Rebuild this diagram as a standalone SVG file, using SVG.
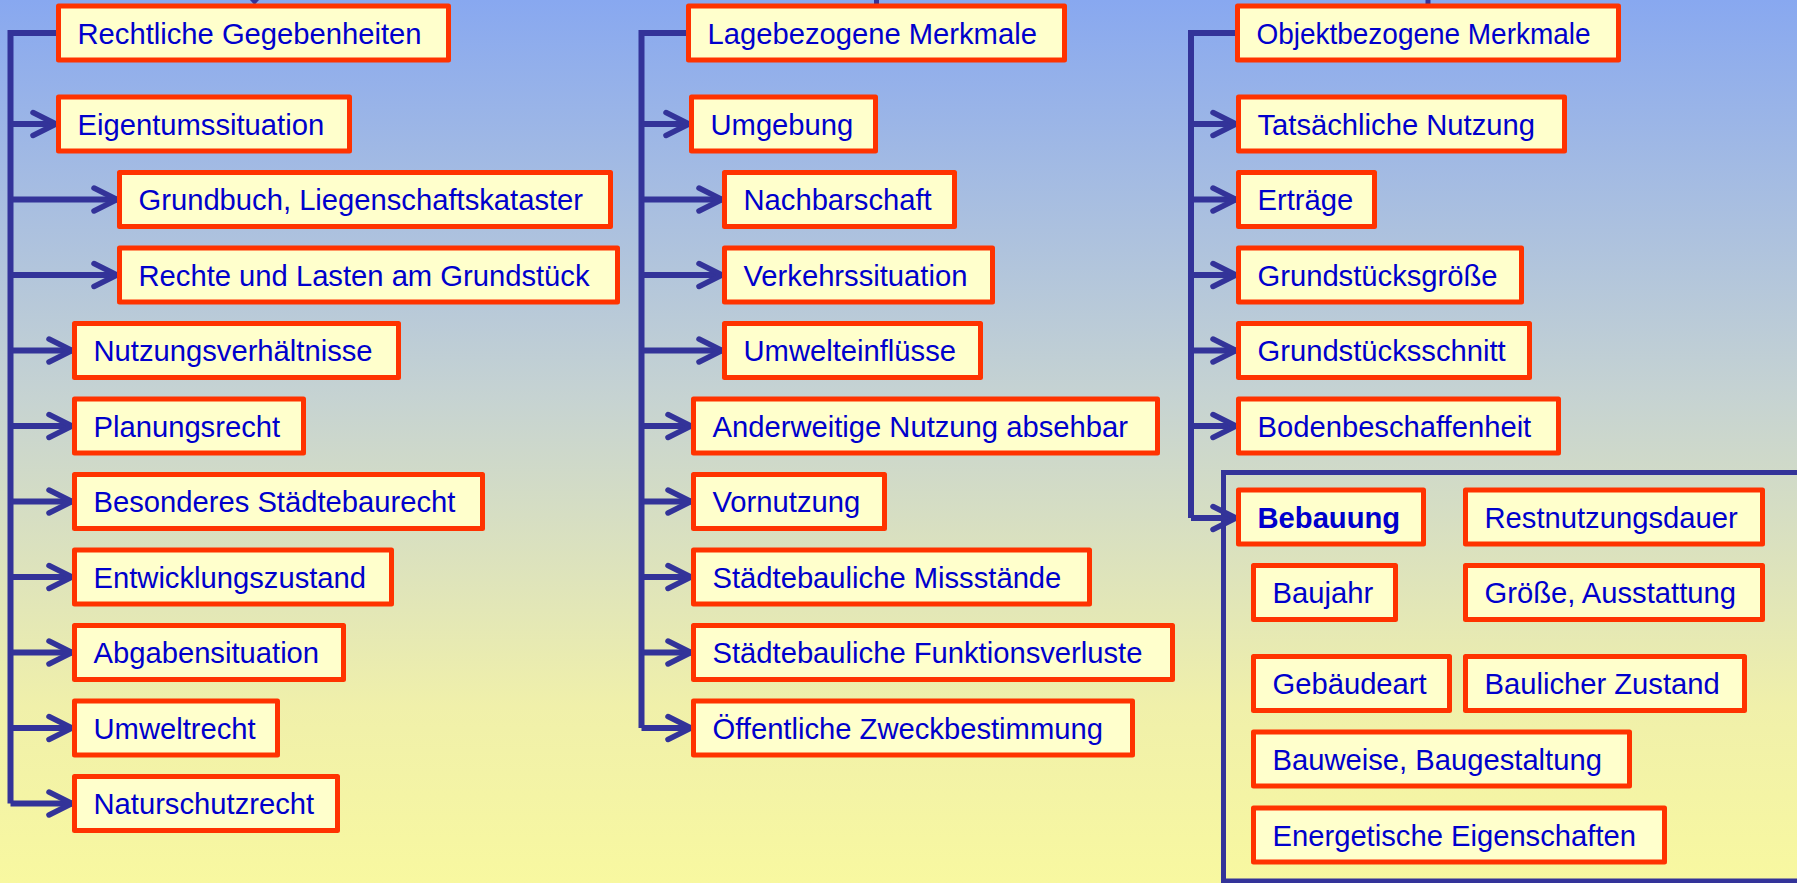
<svg xmlns="http://www.w3.org/2000/svg" width="1797" height="883" viewBox="0 0 1797 883">
<defs>
<linearGradient id="bg" x1="0" y1="0" x2="0" y2="1">
<stop offset="0" stop-color="#88A8F0"/>
<stop offset="0.45" stop-color="#C6D3D2"/>
<stop offset="0.8" stop-color="#F0F0AA"/>
<stop offset="1" stop-color="#F8F8A0"/>
</linearGradient>
<marker id="arr" markerUnits="userSpaceOnUse" markerWidth="40" markerHeight="40" viewBox="-30 -20 40 40" refX="0" refY="0" orient="auto" overflow="visible">
<path d="M-23,-11.5 L0,0 L-23,11.5" fill="none" stroke="#333399" stroke-width="5.5" stroke-linecap="round" stroke-linejoin="miter"/>
</marker>
</defs>
<style>
.box{fill:#FFFFCC;stroke:#FF3300;stroke-width:5;stroke-linejoin:round}
.t{font-family:"Liberation Sans",Arial,sans-serif;font-size:29.2px;fill:#0000CC}
.b{font-weight:bold}
.c{fill:none;stroke:#333399;stroke-width:6}
.a{fill:none;stroke:#333399;stroke-width:6;marker-end:url(#arr)}
</style>
<rect x="0" y="0" width="1797" height="883" fill="url(#bg)"/>

<g id="connectors">
<polygon points="250,0 259,0 254.5,5" fill="#333399"/>
<line x1="876.5" y1="0" x2="876.5" y2="5" stroke="#333399" stroke-width="5"/>
<line x1="1428" y1="0" x2="1428" y2="5" stroke="#333399" stroke-width="5"/>
<path class="c" d="M58,33 H10.5 V803.5"/>
<path class="a" d="M10.5,124 H56"/>
<path class="a" d="M10.5,199.5 H117"/>
<path class="a" d="M10.5,275 H117"/>
<path class="a" d="M10.5,350.5 H72"/>
<path class="a" d="M10.5,426 H72"/>
<path class="a" d="M10.5,501.5 H72"/>
<path class="a" d="M10.5,577 H72"/>
<path class="a" d="M10.5,652.5 H72"/>
<path class="a" d="M10.5,728 H72"/>
<path class="a" d="M10.5,803.5 H72"/>
<path class="c" d="M688,33 H641.5 V728"/>
<path class="a" d="M641.5,124 H689"/>
<path class="a" d="M641.5,199.5 H722"/>
<path class="a" d="M641.5,275 H722"/>
<path class="a" d="M641.5,350.5 H722"/>
<path class="a" d="M641.5,426 H691"/>
<path class="a" d="M641.5,501.5 H691"/>
<path class="a" d="M641.5,577 H691"/>
<path class="a" d="M641.5,652.5 H691"/>
<path class="a" d="M641.5,728 H691"/>
<path class="c" d="M1237,33 H1191 V518"/>
<path class="a" d="M1191,124 H1236"/>
<path class="a" d="M1191,199.5 H1236"/>
<path class="a" d="M1191,275 H1236"/>
<path class="a" d="M1191,350.5 H1236"/>
<path class="a" d="M1191,426 H1236"/>
<rect x="1223.5" y="472.5" width="600" height="408.5" fill="none" stroke="#333399" stroke-width="5"/>
<path class="a" d="M1191,518 V518 H1236"/>
</g>

<g id="rechtliche-gegebenheiten"><rect class="box" x="58.5" y="6" width="390" height="54"/><text class="t" x="77.5" y="43.5">Rechtliche Gegebenheiten</text></g>
<g id="eigentumssituation"><rect class="box" x="58.5" y="97" width="291" height="54"/><text class="t" x="77.5" y="134.5">Eigentumssituation</text></g>
<g id="grundbuch"><rect class="box" x="119.5" y="172.5" width="491" height="54"/><text class="t" x="138.5" y="210">Grundbuch, Liegenschaftskataster</text></g>
<g id="rechte-lasten"><rect class="box" x="119.5" y="248" width="498" height="54"/><text class="t" x="138.5" y="285.5">Rechte und Lasten am Grundstück</text></g>
<g id="nutzungsverhaeltnisse"><rect class="box" x="74.5" y="323.5" width="324" height="54"/><text class="t" x="93.5" y="361">Nutzungsverhältnisse</text></g>
<g id="planungsrecht"><rect class="box" x="74.5" y="399" width="229" height="54"/><text class="t" x="93.5" y="436.5">Planungsrecht</text></g>
<g id="besonderes-staedtebaurecht"><rect class="box" x="74.5" y="474.5" width="408" height="54"/><text class="t" x="93.5" y="512">Besonderes Städtebaurecht</text></g>
<g id="entwicklungszustand"><rect class="box" x="74.5" y="550" width="317" height="54"/><text class="t" x="93.5" y="587.5">Entwicklungszustand</text></g>
<g id="abgabensituation"><rect class="box" x="74.5" y="625.5" width="269" height="54"/><text class="t" x="93.5" y="663">Abgabensituation</text></g>
<g id="umweltrecht"><rect class="box" x="74.5" y="701" width="203" height="54"/><text class="t" x="93.5" y="738.5">Umweltrecht</text></g>
<g id="naturschutzrecht"><rect class="box" x="74.5" y="776.5" width="263" height="54"/><text class="t" x="93.5" y="814">Naturschutzrecht</text></g>

<g id="lagebezogene-merkmale"><rect class="box" x="688.5" y="6" width="376" height="54"/><text class="t" x="707.5" y="43.5">Lagebezogene Merkmale</text></g>
<g id="umgebung"><rect class="box" x="691.5" y="97" width="184" height="54"/><text class="t" x="710.5" y="134.5">Umgebung</text></g>
<g id="nachbarschaft"><rect class="box" x="724.5" y="172.5" width="230" height="54"/><text class="t" x="743.5" y="210">Nachbarschaft</text></g>
<g id="verkehrssituation"><rect class="box" x="724.5" y="248" width="268" height="54"/><text class="t" x="743.5" y="285.5">Verkehrssituation</text></g>
<g id="umwelteinfluesse"><rect class="box" x="724.5" y="323.5" width="256" height="54"/><text class="t" x="743.5" y="361">Umwelteinflüsse</text></g>
<g id="anderweitige-nutzung"><rect class="box" x="693.5" y="399" width="464" height="54"/><text class="t" x="712.5" y="436.5">Anderweitige Nutzung absehbar</text></g>
<g id="vornutzung"><rect class="box" x="693.5" y="474.5" width="191" height="54"/><text class="t" x="712.5" y="512">Vornutzung</text></g>
<g id="missstaende"><rect class="box" x="693.5" y="550" width="396" height="54"/><text class="t" x="712.5" y="587.5">Städtebauliche Missstände</text></g>
<g id="funktionsverluste"><rect class="box" x="693.5" y="625.5" width="479" height="54"/><text class="t" x="712.5" y="663">Städtebauliche Funktionsverluste</text></g>
<g id="zweckbestimmung"><rect class="box" x="693.5" y="701" width="439" height="54"/><text class="t" x="712.5" y="738.5">Öffentliche Zweckbestimmung</text></g>

<g id="objektbezogene-merkmale"><rect class="box" x="1237.5" y="6" width="381" height="54"/><text class="t" x="1256.5" y="43.5" textLength="334" lengthAdjust="spacingAndGlyphs">Objektbezogene Merkmale</text></g>
<g id="tatsaechliche-nutzung"><rect class="box" x="1238.5" y="97" width="326" height="54"/><text class="t" x="1257.5" y="134.5">Tatsächliche Nutzung</text></g>
<g id="ertraege"><rect class="box" x="1238.5" y="172.5" width="136" height="54"/><text class="t" x="1257.5" y="210">Erträge</text></g>
<g id="grundstuecksgroesse"><rect class="box" x="1238.5" y="248" width="283" height="54"/><text class="t" x="1257.5" y="285.5">Grundstücksgröße</text></g>
<g id="grundstuecksschnitt"><rect class="box" x="1238.5" y="323.5" width="291" height="54"/><text class="t" x="1257.5" y="361">Grundstücksschnitt</text></g>
<g id="bodenbeschaffenheit"><rect class="box" x="1238.5" y="399" width="320" height="54"/><text class="t" x="1257.5" y="436.5">Bodenbeschaffenheit</text></g>

<g id="bebauung"><rect class="box" x="1238.5" y="490" width="185" height="54"/><text class="t b" x="1257.5" y="527.5">Bebauung</text></g>
<g id="restnutzungsdauer"><rect class="box" x="1465.5" y="490" width="297" height="54"/><text class="t" x="1484.5" y="527.5">Restnutzungsdauer</text></g>
<g id="baujahr"><rect class="box" x="1253.5" y="565.5" width="142" height="54"/><text class="t" x="1272.5" y="603">Baujahr</text></g>
<g id="groesse-ausstattung"><rect class="box" x="1465.5" y="565.5" width="297" height="54"/><text class="t" x="1484.5" y="603">Größe, Ausstattung</text></g>
<g id="gebaeudeart"><rect class="box" x="1253.5" y="656.5" width="196" height="54"/><text class="t" x="1272.5" y="694">Gebäudeart</text></g>
<g id="baulicher-zustand"><rect class="box" x="1465.5" y="656.5" width="279" height="54"/><text class="t" x="1484.5" y="694">Baulicher Zustand</text></g>
<g id="bauweise"><rect class="box" x="1253.5" y="732" width="376" height="54"/><text class="t" x="1272.5" y="769.5">Bauweise, Baugestaltung</text></g>
<g id="energetische"><rect class="box" x="1253.5" y="808" width="411" height="54"/><text class="t" x="1272.5" y="845.5">Energetische Eigenschaften</text></g>
</svg>
